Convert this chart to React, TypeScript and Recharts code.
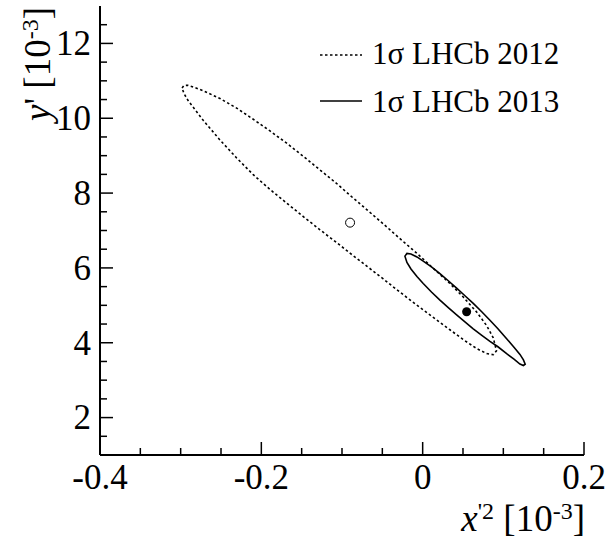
import { ComposedChart, Line, Scatter, XAxis, YAxis } from "recharts";

// 1 sigma contour, LHCb 2012 (dashed): upper edge left->right, then lower edge back
const contour2012 = [
  { x: -0.2983, y: 10.81 }, { x: -0.2959, y: 10.875 }, { x: -0.291, y: 10.88 },
  { x: -0.2823, y: 10.82 }, { x: -0.272, y: 10.733 }, { x: -0.2513, y: 10.528 },
  { x: -0.2306, y: 10.272 }, { x: -0.21, y: 9.973 }, { x: -0.1893, y: 9.661 },
  { x: -0.1686, y: 9.333 }, { x: -0.148, y: 8.984 }, { x: -0.1273, y: 8.619 },
  { x: -0.1066, y: 8.256 }, { x: -0.0901, y: 7.941 }, { x: -0.0694, y: 7.56 },
  { x: -0.0488, y: 7.176 }, { x: -0.0281, y: 6.781 }, { x: -0.0074, y: 6.395 },
  { x: 0.0131, y: 5.989 }, { x: 0.0338, y: 5.584 }, { x: 0.0503, y: 5.221 },
  { x: 0.0669, y: 4.821 }, { x: 0.0793, y: 4.459 }, { x: 0.0875, y: 4.133 },
  { x: 0.0915, y: 3.787 },
  { x: 0.0875, y: 3.68 }, { x: 0.0793, y: 3.712 }, { x: 0.0669, y: 3.845 },
  { x: 0.0503, y: 4.085 }, { x: 0.0338, y: 4.347 }, { x: 0.0131, y: 4.677 },
  { x: -0.0074, y: 5.008 }, { x: -0.0281, y: 5.352 }, { x: -0.0488, y: 5.704 },
  { x: -0.0694, y: 6.051 }, { x: -0.0901, y: 6.395 }, { x: -0.1066, y: 6.677 },
  { x: -0.1273, y: 7.019 }, { x: -0.148, y: 7.373 }, { x: -0.1686, y: 7.733 },
  { x: -0.1893, y: 8.099 }, { x: -0.21, y: 8.491 }, { x: -0.2306, y: 8.939 },
  { x: -0.2513, y: 9.419 }, { x: -0.272, y: 9.944 }, { x: -0.2823, y: 10.235 },
  { x: -0.291, y: 10.48 }, { x: -0.2959, y: 10.661 },
];

// 1 sigma contour, LHCb 2013 (solid)
const contour2013 = [
  { x: -0.022, y: 6.315 }, { x: -0.0195, y: 6.387 }, { x: -0.0145, y: 6.373 },
  { x: -0.0071, y: 6.293 }, { x: 0.0007, y: 6.181 }, { x: 0.0109, y: 6.027 },
  { x: 0.0214, y: 5.848 }, { x: 0.0314, y: 5.664 }, { x: 0.0421, y: 5.459 },
  { x: 0.0524, y: 5.256 }, { x: 0.0627, y: 5.051 }, { x: 0.0729, y: 4.835 },
  { x: 0.0834, y: 4.603 }, { x: 0.0933, y: 4.373 }, { x: 0.1041, y: 4.107 },
  { x: 0.1132, y: 3.88 }, { x: 0.1206, y: 3.688 }, { x: 0.1249, y: 3.541 },
  { x: 0.1271, y: 3.427 },
  { x: 0.1249, y: 3.392 }, { x: 0.1206, y: 3.432 }, { x: 0.1132, y: 3.56 },
  { x: 0.1041, y: 3.707 }, { x: 0.0933, y: 3.893 }, { x: 0.0834, y: 4.037 },
  { x: 0.0729, y: 4.205 }, { x: 0.0627, y: 4.373 }, { x: 0.0524, y: 4.557 },
  { x: 0.0421, y: 4.744 }, { x: 0.0314, y: 4.944 }, { x: 0.0214, y: 5.139 },
  { x: 0.0109, y: 5.355 }, { x: 0.0007, y: 5.584 }, { x: -0.0071, y: 5.771 },
  { x: -0.0145, y: 5.973 }, { x: -0.0195, y: 6.147 },
];

const best2012 = [{ x: -0.09, y: 7.21 }];
const best2013 = [{ x: 0.0545, y: 4.83 }];

const xTicks = [-0.4, -0.35, -0.3, -0.25, -0.2, -0.15, -0.1, -0.05, 0, 0.05, 0.1, 0.15, 0.2];
const xMajor = [-0.4, -0.2, 0, 0.2];
const yTicks = [1.5, 2, 2.5, 3, 3.5, 4, 4.5, 5, 5.5, 6, 6.5, 7, 7.5, 8, 8.5, 9, 9.5, 10, 10.5, 11, 11.5, 12, 12.5];
const yMajor = [2, 4, 6, 8, 10, 12];

const legendItems = [
  { label: "1σ LHCb 2012", dash: "2.5 2.5" },
  { label: "1σ LHCb 2013", dash: undefined },
];

const FONT = "Liberation Serif, Times New Roman, serif";
const TICK_FS = 35;
const TITLE_FS = 37;
const SUP_FS = 24;
const LEGEND_FS = 31;

function fmtX(v: number) {
  return v === 0 ? "0" : String(v);
}

function BottomTick(props: any) {
  const { x, y, payload } = props;
  const major = xMajor.includes(payload.value);
  return (
    <g>
      <line x1={x} y1={y} x2={x} y2={y - (major ? 13 : 7)} stroke="#000" strokeWidth={1.5} />
      {major && (
        <text x={x} y={y + 34} textAnchor="middle" fontSize={TICK_FS} fontFamily={FONT} fill="#000">
          {fmtX(payload.value)}
        </text>
      )}
    </g>
  );
}

function TopTick(props: any) {
  const { x, y, payload } = props;
  const major = xMajor.includes(payload.value);
  return <line x1={x} y1={y} x2={x} y2={y + (major ? 13 : 7)} stroke="#000" strokeWidth={1.5} />;
}

function LeftTick(props: any) {
  const { x, y, payload } = props;
  const major = yMajor.includes(payload.value);
  return (
    <g>
      <line x1={x} y1={y} x2={x + (major ? 13 : 7)} y2={y} stroke="#000" strokeWidth={1.5} />
      {major && (
        <text x={x - 9} y={y} dy="0.34em" textAnchor="end" fontSize={TICK_FS} fontFamily={FONT} fill="#000">
          {payload.value}
        </text>
      )}
    </g>
  );
}

function RightTick(props: any) {
  const { x, y, payload } = props;
  const major = yMajor.includes(payload.value);
  return <line x1={x} y1={y} x2={x - (major ? 13 : 7)} y2={y} stroke="#000" strokeWidth={1.5} />;
}

function OpenDot(props: any) {
  return <circle cx={props.cx} cy={props.cy} r={4.5} fill="#fff" stroke="#000" strokeWidth={1} />;
}

function FilledDot(props: any) {
  return <circle cx={props.cx} cy={props.cy} r={4.5} fill="#000" />;
}

export default function App() {
  return (
    <div style={{ position: "absolute", left: 0, top: 0, background: "#fff" }}>
      <ComposedChart width={606} height={542} margin={{ top: 6, right: 22, bottom: 0, left: 40 }}>
        <XAxis
          xAxisId="b"
          type="number"
          dataKey="x"
          domain={[-0.4, 0.2]}
          ticks={xTicks}
          interval={0}
          allowDataOverflow
          height={87}
          tickSize={0}
          tickMargin={0}
          tick={BottomTick}
          axisLine={{ stroke: "#000", strokeWidth: 2 }}
        />
        <XAxis
          xAxisId="t"
          orientation="top"
          type="number"
          dataKey="x"
          domain={[-0.4, 0.2]}
          ticks={xTicks}
          interval={0}
          allowDataOverflow
          height={0}
          tickSize={0}
          tickMargin={0}
          tick={TopTick}
          axisLine={{ stroke: "#000", strokeWidth: 2 }}
        />
        <YAxis
          yAxisId="l"
          type="number"
          domain={[1, 13]}
          ticks={yTicks}
          interval={0}
          allowDataOverflow
          width={60}
          tickSize={0}
          tickMargin={0}
          tick={LeftTick}
          axisLine={{ stroke: "#000", strokeWidth: 2 }}
        />
        <YAxis
          yAxisId="r"
          orientation="right"
          type="number"
          domain={[1, 13]}
          ticks={yTicks}
          interval={0}
          allowDataOverflow
          width={0}
          tickSize={0}
          tickMargin={0}
          tick={RightTick}
          axisLine={{ stroke: "#000", strokeWidth: 2 }}
        />

        <Line
          xAxisId="b"
          yAxisId="l"
          data={contour2012}
          dataKey="y"
          type="linearClosed"
          stroke="#000"
          strokeWidth={1.6}
          strokeDasharray="2.5 2.5"
          dot={false}
          activeDot={false}
          isAnimationActive={false}
        />
        <Line
          xAxisId="b"
          yAxisId="l"
          data={contour2013}
          dataKey="y"
          type="linearClosed"
          stroke="#000"
          strokeWidth={1.6}
          dot={false}
          activeDot={false}
          isAnimationActive={false}
        />
        <Scatter xAxisId="b" yAxisId="l" data={best2012} dataKey="y" shape={OpenDot} isAnimationActive={false} />
        <Scatter xAxisId="b" yAxisId="l" data={best2013} dataKey="y" shape={FilledDot} isAnimationActive={false} />

        {/* legend */}
        {legendItems.map((it, i) => (
          <g key={it.label}>
            <line x1={320} x2={362} y1={55 + i * 46} y2={55 + i * 46} stroke="#000" strokeWidth={1.6} strokeDasharray={it.dash} />
            <text x={372} y={64 + i * 48} fontSize={LEGEND_FS} fontFamily={FONT} fill="#000">
              {it.label}
            </text>
          </g>
        ))}

        {/* axis titles */}
        <text x={585} y={531} textAnchor="end" fontSize={TITLE_FS} fontFamily={FONT} fill="#000">
          <tspan fontStyle="italic">x</tspan>
          <tspan dy={-12} fontSize={SUP_FS}>'2</tspan>
          <tspan dy={12}> [10</tspan>
          <tspan dy={-12} fontSize={SUP_FS}>-3</tspan>
          <tspan dy={12}>]</tspan>
        </text>
        <text transform="rotate(-90)" x={-7} y={50} textAnchor="end" fontSize={TITLE_FS} fontFamily={FONT} fill="#000">
          <tspan fontStyle="italic">y</tspan>
          <tspan>' [10</tspan>
          <tspan dy={-12} fontSize={SUP_FS}>-3</tspan>
          <tspan dy={12}>]</tspan>
        </text>
      </ComposedChart>
    </div>
  );
}
